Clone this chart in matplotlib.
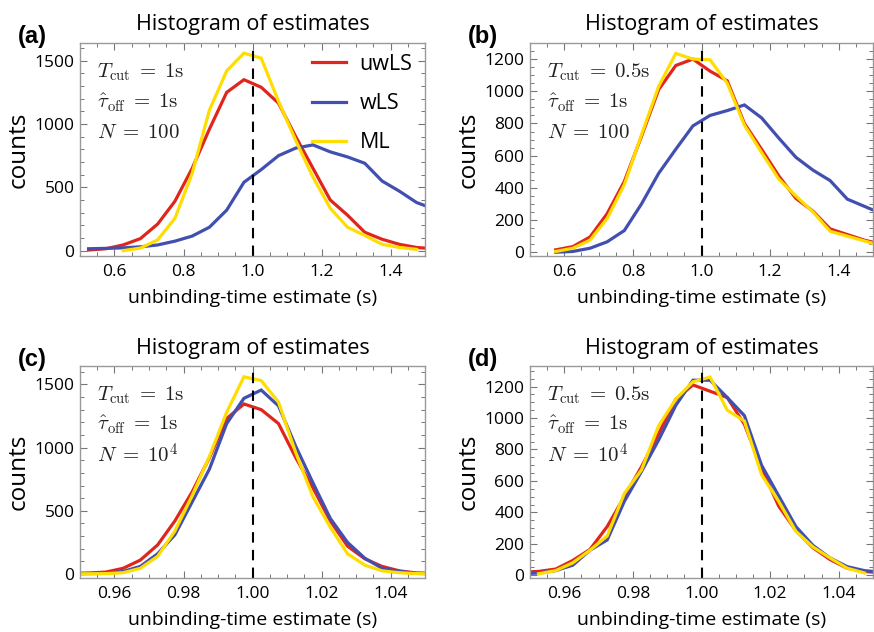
import matplotlib
matplotlib.use("Agg")
import matplotlib.pyplot as plt
from matplotlib.ticker import MultipleLocator, FormatStrFormatter

plt.rcParams['font.family'] = ['Open Sans', 'DejaVu Sans']
plt.rcParams['mathtext.fontset'] = 'cm'

# bin centres (s)
x_wide = [0.525, 0.575, 0.625, 0.675, 0.725, 0.775, 0.825, 0.875, 0.925, 0.975,
          1.025, 1.075, 1.125, 1.175, 1.225, 1.275, 1.325, 1.375, 1.425, 1.475, 1.525]
x_narrow = [0.9475, 0.9525, 0.9575, 0.9625, 0.9675, 0.9725, 0.9775, 0.9825, 0.9875, 0.9925,
            0.9975, 1.0025, 1.0075, 1.0125, 1.0175, 1.0225, 1.0275, 1.0325, 1.0375,
            1.0425, 1.0475, 1.0525]

# (a) Tcut = 1s, N = 100
a_uwls = [5, 15, 45, 95, 210, 390, 650, 960, 1250, 1350,
          1290, 1165, 900, 650, 400, 280, 145, 90, 50, 25, 15]
a_wls = [15, 18, 22, 30, 45, 75, 115, 185, 320, 540,
         640, 750, 810, 835, 780, 740, 690, 550, 470, 380, 330]
a_ml = [None, None, 0, 20, 85, 255, 610, 1110, 1420, 1560,
        1520, 1180, 870, 580, 335, 185, 120, 50, 25, 10, None]

# (b) Tcut = 0.5s, N = 100
b_uwls = [None, 15, 35, 95, 240, 440, 720, 1010, 1160, 1200,
          1125, 1065, 800, 640, 475, 335, 255, 145, 110, 75, 50]
b_wls = [None, 0, 5, 25, 65, 135, 300, 490, 640, 785,
         850, 880, 915, 835, 710, 590, 510, 445, 330, 285, 240]
b_ml = [None, 5, 25, 75, 210, 420, 730, 1030, 1235, 1200,
        1195, 1050, 790, 620, 455, 350, 250, 130, 100, 70, 40]

# (c) Tcut = 1s, N = 10^4
c_uwls = [5, 8, 15, 45, 110, 230, 420, 650, 920, 1230, 1345,
          1300, 1190, 920, 680, 420, 220, 120, 60, 25, 8, 5]
c_wls = [2, 3, 5, 20, 60, 160, 310, 570, 830, 1190, 1390,
         1455, 1330, 1010, 720, 440, 250, 125, 45, 20, 5, 2]
c_ml = [1, 2, 3, 10, 45, 140, 340, 620, 930, 1280, 1560,
        1530, 1360, 960, 610, 370, 160, 70, 25, 10, 3, 1]

# (d) Tcut = 0.5s, N = 10^4
d_uwls = [20, 25, 40, 95, 165, 310, 500, 690, 900, 1120, 1210,
          1170, 1130, 960, 680, 440, 285, 175, 100, 45, 25, 15]
d_wls = [10, 15, 30, 65, 160, 225, 470, 660, 860, 1080, 1240,
         1240, 1130, 1015, 700, 505, 310, 190, 110, 55, 30, 20]
d_ml = [None, 10, 30, 80, 160, 250, 520, 670, 950, 1120, 1230,
        1260, 1050, 980, 640, 470, 280, 180, 110, 45, 15, None]

labels = ["uwLS", "wLS", "ML"]
colors = ["#E0261C", "#4150B0", "#FFDD00"]

EQ = "\\;=\\;"
panels = [
    ("(a)", x_wide, [a_uwls, a_wls, a_ml], (0.5, 1.5), (-42, 1640), 500, 100,
     ["$T_{\\rm cut}" + EQ + "1{\\rm s}$", "$\\hat{\\tau}_{\\rm off}" + EQ + "1{\\rm s}$",
      "$N" + EQ + "100$"]),
    ("(b)", x_wide, [b_uwls, b_wls, b_ml], (0.5, 1.5), (-23, 1300), 200, 50,
     ["$T_{\\rm cut}" + EQ + "0.5{\\rm s}$", "$\\hat{\\tau}_{\\rm off}" + EQ + "1{\\rm s}$",
      "$N" + EQ + "100$"]),
    ("(c)", x_narrow, [c_uwls, c_wls, c_ml], (0.95, 1.05), (-32, 1645), 500, 100,
     ["$T_{\\rm cut}" + EQ + "1{\\rm s}$", "$\\hat{\\tau}_{\\rm off}" + EQ + "1{\\rm s}$",
      "$N" + EQ + "10^4$"]),
    ("(d)", x_narrow, [d_uwls, d_wls, d_ml], (0.95, 1.05), (-17, 1330), 200, 50,
     ["$T_{\\rm cut}" + EQ + "0.5{\\rm s}$", "$\\hat{\\tau}_{\\rm off}" + EQ + "1{\\rm s}$",
      "$N" + EQ + "10^4$"]),
]

positions = [[0.0915, 0.595, 0.395, 0.337], [0.6064, 0.595, 0.3925, 0.337],
             [0.0915, 0.0854, 0.395, 0.3354], [0.6064, 0.0854, 0.3925, 0.3354]]

fig = plt.figure(figsize=(8.74, 6.32), dpi=100)

for i, (tag, xs, series, xlim, ylim, ymaj, ymin, notes) in enumerate(panels):
    ax = fig.add_axes(positions[i])
    for ys, lab, col in zip(series, labels, colors):
        pts = [(x, y) for x, y in zip(xs, ys) if y is not None]
        ax.plot([p[0] for p in pts], [p[1] for p in pts], color=col, lw=2.3,
                label=lab, solid_joinstyle='miter')
    ax.axvline(1.0, color='black', lw=1.5, ls=(0, (5, 3.5)))
    ax.set_xlim(*xlim)
    ax.set_ylim(*ylim)

    if xlim[1] - xlim[0] > 0.5:
        ax.xaxis.set_major_locator(MultipleLocator(0.2))
        ax.xaxis.set_minor_locator(MultipleLocator(0.05))
        ax.xaxis.set_major_formatter(FormatStrFormatter('%.1f'))
    else:
        ax.xaxis.set_major_locator(MultipleLocator(0.02))
        ax.xaxis.set_minor_locator(MultipleLocator(0.005))
        ax.xaxis.set_major_formatter(FormatStrFormatter('%.2f'))
    ax.yaxis.set_major_locator(MultipleLocator(ymaj))
    ax.yaxis.set_minor_locator(MultipleLocator(ymin))

    ax.tick_params(which='both', direction='in', top=True, right=True,
                   color='#777777', labelsize=12.5)
    ax.tick_params(which='major', length=5, width=0.8)
    ax.tick_params(which='minor', length=2.8, width=0.7)
    ax.tick_params(axis='x', pad=6)
    ax.tick_params(axis='y', pad=4)
    for sp in ax.spines.values():
        sp.set_color('#999999')
        sp.set_linewidth(1.0)

    ax.set_title("Histogram of estimates", fontsize=15.5, pad=9)
    ax.set_xlabel("unbinding-time estimate (s)", fontsize=14, labelpad=6)
    ax.set_ylabel("counts", fontsize=17.5, labelpad=3)
    ax.text(-0.18, 1.03, tag, transform=ax.transAxes, fontsize=17,
            fontweight='bold', family='Liberation Sans', va='center', ha='left')

    for k, note in enumerate(notes):
        ax.text(0.05, 0.864 - 0.143 * k, note, transform=ax.transAxes,
                fontsize=15, color='#222222', va='center', ha='left')

    if i == 0:
        ax.legend(loc='upper right', frameon=False, fontsize=15.5,
                  handlelength=1.6, handletextpad=0.6, labelspacing=0.85,
                  borderaxespad=0.2, bbox_to_anchor=(1.0, 1.01))

fig.savefig("out.png", dpi=100)
